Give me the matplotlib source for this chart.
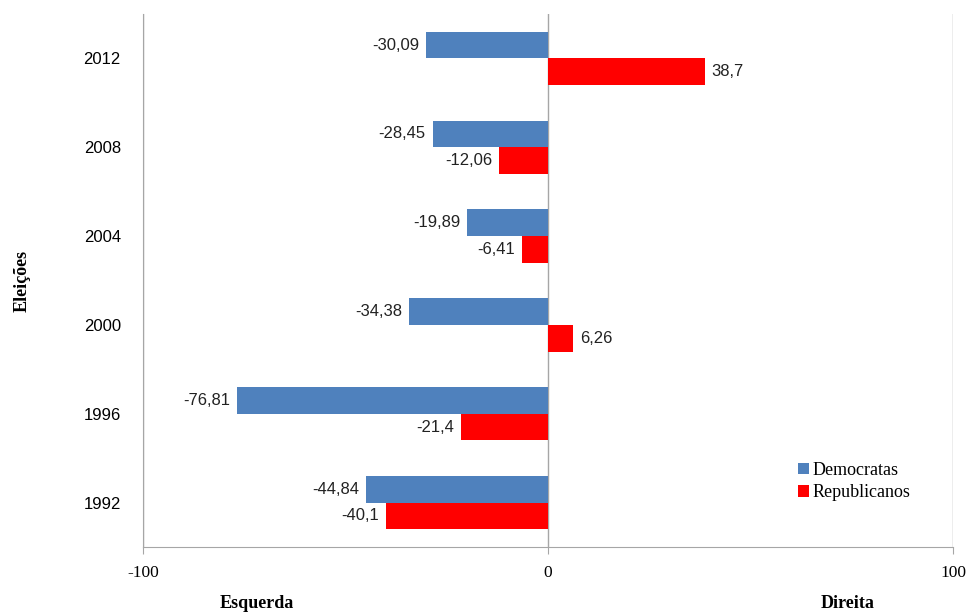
import numpy as np
import matplotlib
matplotlib.use("Agg")
import matplotlib.pyplot as plt

years = ["1992", "1996", "2000", "2004", "2008", "2012"]
democratas = [-44.84, -76.81, -34.38, -19.89, -28.45, -30.09]
republicanos = [-40.1, -21.4, 6.26, -6.41, -12.06, 38.7]
xticks = [-100, 0, 100]

blue = "#4F81BD"
red = "#FF0000"
grey = "#A6A6A6"

fig = plt.figure(figsize=(9.74, 6.14), dpi=100)
ax = fig.add_axes([143 / 974, 67 / 614, 810 / 974, 533 / 614])

y = np.arange(len(years))
h = 0.3
bd = ax.barh(y + h / 2, democratas, height=h, color=blue, label="Democratas")
br = ax.barh(y - h / 2, republicanos, height=h, color=red, label="Republicanos")

# data labels next to the bar ends
for bars, vals in [(bd, democratas), (br, republicanos)]:
    for b, v in zip(bars, vals):
        txt = f"{v:g}".replace(".", ",")
        if v < 0:
            ax.annotate(txt, (v, b.get_y() + b.get_height() / 2), xytext=(-5, 0),
                        textcoords="offset points", ha="right", va="center",
                        fontsize=12, family="Liberation Sans", color="#222222")
        else:
            ax.annotate(txt, (v, b.get_y() + b.get_height() / 2), xytext=(5, 0),
                        textcoords="offset points", ha="left", va="center",
                        fontsize=12, family="Liberation Sans", color="#222222")

ax.set_xlim(-100, 100)
ax.set_ylim(-0.5, len(years) - 0.5)
ax.set_xticks(xticks)
ax.set_xticklabels([str(t) for t in xticks], family="Liberation Serif", fontsize=12.5)
ax.set_yticks(y)
ax.set_yticklabels(years, family="Liberation Sans", fontsize=12)
ax.tick_params(axis="y", length=0, pad=16)
ax.tick_params(axis="x", length=5, color=grey, pad=8)

ax.grid(axis="x", color=grey, linewidth=1)
ax.set_axisbelow(True)
for s in ["top", "right"]:
    ax.spines[s].set_visible(False)
for s in ["left", "bottom"]:
    ax.spines[s].set_color(grey)

ax.set_ylabel("Eleições", family="Liberation Serif", fontweight="bold", fontsize=13, labelpad=38)
fig.text(257 / 974, 1 - 604 / 614, "Esquerda", family="Liberation Serif", fontweight="bold",
         fontsize=13, ha="center", va="center")
fig.text(848 / 974, 1 - 604 / 614, "Direita", family="Liberation Serif", fontweight="bold",
         fontsize=13, ha="center", va="center")

ax.legend(loc="lower right", bbox_to_anchor=(0.967, 0.055), frameon=False,
          prop={"family": "Liberation Serif", "size": 13},
          handlelength=0.6, handleheight=0.6, handletextpad=0.2, labelspacing=0.3)

fig.savefig("out.png", dpi=100)
